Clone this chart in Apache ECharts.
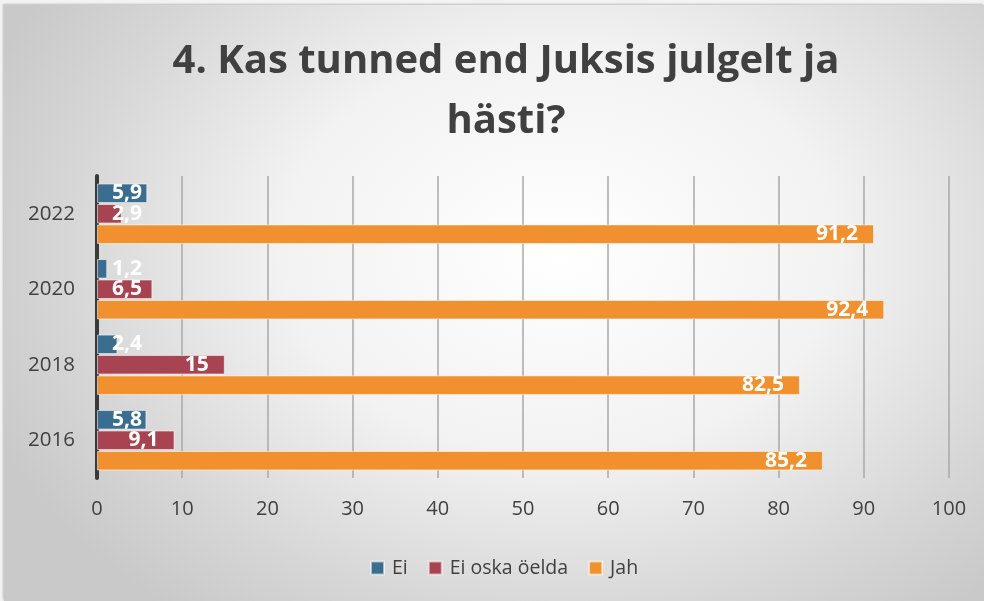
<!DOCTYPE html>
<html>
<head>
    <meta charset="utf-8">
    <title>ECharts</title>
    <script src="https://cdn.jsdelivr.net/npm/echarts@6/dist/echarts.min.js"></script>
    <style>
        html, body { margin: 0; padding: 0; background: #f3f3f3; }
        #main {
            position: absolute; left: 4px; top: 5px; width: 980px; height: 596px;
            background: radial-gradient(ellipse 620px 460px at 556px 245px, #ffffff 0%, #f2f2f2 45%, #d6d6d6 80%, #c9c9c9 100%);
            box-shadow: -1px -1px 2px #bdbdbd;
        }
    </style>
</head>
<body>
    <div id="main"></div>
    <script type="text/javascript">
        // data
        var years = ['2016', '2018', '2020', '2022'];
        var ei = [5.8, 2.4, 1.2, 5.9];
        var eiOska = [9.1, 15, 6.5, 2.9];
        var jah = [85.2, 82.5, 92.4, 91.2];
        var xTicks = [0, 10, 20, 30, 40, 50, 60, 70, 80, 90, 100];

        var myChart = echarts.init(document.getElementById('main'));

        var fmt = function (v) {
            return String(v).replace('.', ',');
        };

        // small bars: label sits at a fixed spot near the axis, like in Excel
        var toItems = function (arr) {
            return arr.map(function (v) {
                if (v < 7.4) {
                    return { value: v, label: { position: 'insideLeft', distance: 15 } };
                }
                return v;
            });
        };

        var labelStyle = {
            show: true,
            position: 'insideRight',
            distance: 16,
            color: '#ffffff',
            fontFamily: 'Open Sans',
            fontWeight: 'bold',
            fontSize: 21,
            formatter: function (p) { return fmt(p.value); }
        };

        var mk = function (name, arr, color) {
            return {
                name: name,
                type: 'bar',
                data: toItems(arr),
                barGap: '5%',
                barCategoryGap: '20%',
                itemStyle: { color: color, borderColor: 'rgba(255,255,255,0.55)', borderWidth: 1 },
                label: labelStyle
            };
        };

        myChart.setOption({
            animation: false,
            title: {
                text: '4. Kas tunned end Juksis julgelt ja\nhästi?',
                left: 497,
                top: 22,
                textAlign: 'center',
                textStyle: {
                    fontFamily: 'Open Sans',
                    fontWeight: 'bold',
                    fontSize: 40,
                    lineHeight: 60,
                    color: '#404040'
                }
            },
            legend: {
                data: ['Ei', 'Ei oska öelda', 'Jah'],
                left: 361,
                top: 548,
                itemWidth: 13,
                itemHeight: 13,
                itemGap: 20,
                icon: 'rect',
                textStyle: { fontFamily: 'Open Sans', fontSize: 19.5, color: '#404040', padding: [0, 0, 0, 3] }
            },
            grid: { left: 93, right: 35, top: 171, bottom: 123, containLabel: false },
            xAxis: {
                type: 'value',
                min: 0,
                max: 100,
                interval: 10,
                axisLine: { show: false },
                axisTick: { show: false },
                axisLabel: {
                    margin: 21,
                    fontFamily: 'Open Sans',
                    fontSize: 20,
                    color: '#404040',
                    formatter: function (v) { return xTicks.indexOf(v) >= 0 ? String(v) : ''; }
                },
                splitLine: { show: true, lineStyle: { color: '#a9a9a9', width: 1.5 } }
            },
            yAxis: {
                type: 'category',
                data: years,
                axisLine: { show: true, lineStyle: { color: '#3a3a3a', width: 4 } },
                axisTick: { show: false },
                axisLabel: {
                    margin: 22,
                    fontFamily: 'Open Sans',
                    fontSize: 20.5,
                    color: '#404040'
                }
            },
            series: [
                mk('Ei', ei, '#3b6d90'),
                mk('Ei oska öelda', eiOska, '#a84451'),
                mk('Jah', jah, '#f0902e')
            ]
        });
    </script>
</body>
</html>
